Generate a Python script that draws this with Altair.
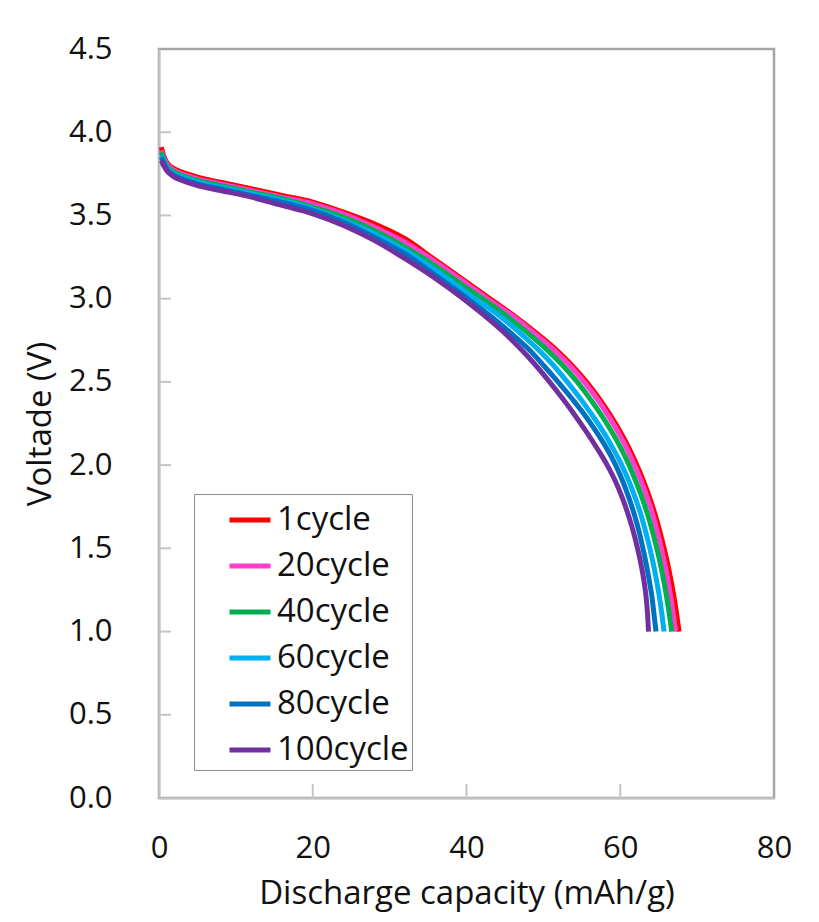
import altair as alt
import pandas as pd

# ---- data ----
series = ["1cycle", "20cycle", "40cycle", "60cycle", "80cycle", "100cycle"]
colors = ["#FF0000", "#FF3FCC", "#00B050", "#00B0F0", "#0070C0", "#7030A0"]

cap_1 = [0.3, 0.6, 1, 2, 3, 5, 8, 12, 16, 20, 24, 28, 32, 36, 40, 43.2,
         46.1, 48.9, 51.5, 53.7, 55.6, 57.25, 58.7, 60.0, 61.15, 62.15,
         63.05, 63.85, 64.55, 65.15, 65.7, 66.2, 66.63, 67.02, 67.35, 67.65]
v_1 = [3.91, 3.86, 3.82, 3.78, 3.76, 3.73, 3.70, 3.66, 3.62, 3.58, 3.52, 3.45, 3.36, 3.23, 3.10, 2.995,
       2.9, 2.8, 2.7, 2.6, 2.5, 2.4, 2.3, 2.2, 2.1, 2.0,
       1.9, 1.8, 1.7, 1.6, 1.5, 1.4, 1.3, 1.2, 1.1, 1.0]

cap_20 = [0.3, 0.6, 1, 2, 3, 5, 8, 12, 16, 20, 24, 28, 32, 36, 40, 43,
          45.9, 48.6, 51.2, 53.4, 55.3, 56.95, 58.4, 59.7, 60.85, 61.85,
          62.75, 63.55, 64.25, 64.82, 65.35, 65.82, 66.23, 66.6, 66.92, 67.2]
v_20 = [3.89, 3.85, 3.81, 3.77, 3.75, 3.72, 3.69, 3.65, 3.61, 3.57, 3.51, 3.43, 3.34, 3.22, 3.09, 2.99,
        2.9, 2.8, 2.7, 2.6, 2.5, 2.4, 2.3, 2.2, 2.1, 2.0,
        1.9, 1.8, 1.7, 1.6, 1.5, 1.4, 1.3, 1.2, 1.1, 1.0]

cap_40 = [0.3, 0.6, 1, 2, 3, 5, 8, 12, 16, 20, 24, 28, 32, 36, 40,
          45.1, 47.8, 50.3, 52.5, 54.4, 56.05, 57.55, 58.9, 60.1, 61.15,
          62.05, 62.87, 63.58, 64.2, 64.75, 65.25, 65.68, 66.06, 66.4, 66.7]
v_40 = [3.88, 3.84, 3.80, 3.76, 3.74, 3.71, 3.68, 3.64, 3.60, 3.55, 3.49, 3.41, 3.31, 3.195, 3.065,
        2.9, 2.8, 2.7, 2.6, 2.5, 2.4, 2.3, 2.2, 2.1, 2.0,
        1.9, 1.8, 1.7, 1.6, 1.5, 1.4, 1.3, 1.2, 1.1, 1.0]

cap_60 = [0.3, 0.6, 1, 2, 3, 5, 8, 12, 16, 20, 24, 28, 32, 36, 40,
          44.2, 46.8, 49.2, 51.3, 53.1, 54.8, 56.35, 57.8, 59.05, 60.2,
          61.15, 61.98, 62.7, 63.3, 63.85, 64.33, 64.75, 65.12, 65.43, 65.7]
v_60 = [3.86, 3.83, 3.79, 3.75, 3.73, 3.70, 3.67, 3.63, 3.59, 3.54, 3.47, 3.39, 3.29, 3.17, 3.035,
        2.9, 2.8, 2.7, 2.6, 2.5, 2.4, 2.3, 2.2, 2.1, 2.0,
        1.9, 1.8, 1.7, 1.6, 1.5, 1.4, 1.3, 1.2, 1.1, 1.0]

cap_80 = [0.3, 0.6, 1, 2, 3, 5, 8, 12, 16, 20, 24, 28, 32, 36, 40,
          43.0, 45.6, 48.0, 50.0, 51.9, 53.7, 55.4, 56.9, 58.25, 59.4,
          60.35, 61.15, 61.85, 62.45, 62.95, 63.4, 63.8, 64.15, 64.4, 64.65]
v_80 = [3.85, 3.82, 3.78, 3.74, 3.72, 3.69, 3.66, 3.62, 3.58, 3.53, 3.46, 3.37, 3.27, 3.14, 3.005,
        2.9, 2.8, 2.7, 2.6, 2.5, 2.4, 2.3, 2.2, 2.1, 2.0,
        1.9, 1.8, 1.7, 1.6, 1.5, 1.4, 1.3, 1.2, 1.1, 1.0]

cap_100 = [0.3, 0.6, 1, 2, 3, 5, 8, 12, 16, 20, 24, 28, 32, 36, 40,
           42.3, 44.8, 47.0, 49.0, 50.8, 52.5, 54.1, 55.6, 57.0, 58.3,
           59.4, 60.3, 61.05, 61.7, 62.25, 62.72, 63.1, 63.38, 63.56, 63.68]
v_100 = [3.83, 3.80, 3.77, 3.73, 3.71, 3.68, 3.65, 3.61, 3.56, 3.51, 3.44, 3.35, 3.24, 3.12, 2.985,
         2.9, 2.8, 2.7, 2.6, 2.5, 2.4, 2.3, 2.2, 2.1, 2.0,
         1.9, 1.8, 1.7, 1.6, 1.5, 1.4, 1.3, 1.2, 1.1, 1.0]

x_ticks = [0, 20, 40, 60, 80]
y_ticks = [0.0, 0.5, 1.0, 1.5, 2.0, 2.5, 3.0, 3.5, 4.0, 4.5]
x_inner_ticks = [20, 40, 60]
y_inner_ticks = [0.5, 1.0, 1.5, 2.0, 2.5, 3.0, 3.5, 4.0]

caps = [cap_1, cap_20, cap_40, cap_60, cap_80, cap_100]
volts = [v_1, v_20, v_40, v_60, v_80, v_100]

rows = []
for k, (name, cx, vy) in enumerate(zip(series, caps, volts)):
    for i, (c, v) in enumerate(zip(cx, vy)):
        rows.append({"series": name, "k": k, "i": i, "cap": c, "v": v})
df = pd.DataFrame(rows)

FONT = "Open Sans"
AXIS_GRAY = "#c4c4c4"
TXT = "#111111"

xscale = alt.Scale(domain=[0, 80], nice=False, zero=False)
yscale = alt.Scale(domain=[0, 4.5], nice=False, zero=False)

xaxis = alt.Axis(values=x_ticks, format="d", ticks=False, tickSize=0, grid=False,
                 domainColor=AXIS_GRAY, domainWidth=2,
                 labelFont=FONT, labelFontSize=31, labelColor=TXT,
                 labelPadding=35, labelFlush=False,
                 title="Discharge capacity (mAh/g)", titleFont=FONT,
                 titleFontSize=33, titleFontWeight="normal", titleColor=TXT,
                 titleBaseline="alphabetic", titleY=105)
yaxis = alt.Axis(values=y_ticks, format=".1f", ticks=False, tickSize=0, grid=False,
                 domainColor=AXIS_GRAY, domainWidth=2,
                 labelFont=FONT, labelFontSize=31, labelColor=TXT,
                 labelPadding=47, labelFlush=False,
                 title="Voltade (V)", titleFont=FONT,
                 titleFontSize=33, titleFontWeight="normal", titleColor=TXT,
                 titleBaseline="alphabetic", titleAngle=270, titleX=-109, titleY=374.5,
                 titleAlign="center")

lines = alt.Chart(df).mark_line(strokeWidth=5, interpolate="monotone").encode(
    x=alt.X("cap:Q", scale=xscale, axis=xaxis, title="Discharge capacity (mAh/g)"),
    y=alt.Y("v:Q", scale=yscale, axis=yaxis, title="Voltade (V)"),
    color=alt.Color("series:N", scale=alt.Scale(domain=series, range=colors),
                    sort=series,
                    legend=alt.Legend(title=None, orient="none", legendX=35, legendY=445,
                                      symbolType="stroke", symbolSize=1681, symbolStrokeWidth=5,
                                      symbolOffset=30,
                                      labelFont=FONT, labelFontSize=33, labelColor=TXT,
                                      labelOffset=4, rowPadding=6, padding=3,
                                      strokeColor="#8c8c8c", fillColor="white")),
    order=alt.Order("i:Q"),
    detail="k:O",
)

xt = alt.Chart(pd.DataFrame({"t": x_inner_ticks})).mark_rule(color=AXIS_GRAY, strokeWidth=2).encode(
    x=alt.X("t:Q", scale=xscale, axis=xaxis, title="Discharge capacity (mAh/g)"),
    y=alt.value(749), y2=alt.value(735))
yt = alt.Chart(pd.DataFrame({"t": y_inner_ticks})).mark_rule(color=AXIS_GRAY, strokeWidth=2).encode(
    y=alt.Y("t:Q", scale=yscale, axis=yaxis, title="Voltade (V)"),
    x=alt.value(0), x2=alt.value(12))

chart = alt.layer(xt, yt, lines).properties(
    width=615, height=749,
    padding={"left": 151, "top": 41, "right": 37, "bottom": 116},
    autosize="none",
).configure_view(stroke="#a6a6a6", strokeWidth=2.5)

chart.save("out.html", embed_options={"renderer": "svg", "actions": False})
